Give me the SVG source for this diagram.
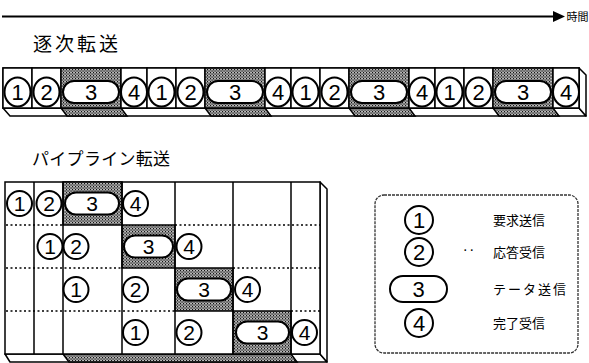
<svg xmlns="http://www.w3.org/2000/svg" width="589" height="363" viewBox="0 0 589 363">
<defs>
<pattern id="stip" width="3" height="3" patternUnits="userSpaceOnUse">
<rect width="3" height="3" fill="#9a9a9a"/>
<rect x="0" y="0" width="1.2" height="1.2" fill="#111"/>
<rect x="1.5" y="1.5" width="1.2" height="1.2" fill="#333"/>
<rect x="1.5" y="0" width="1" height="1" fill="#e0e0e0"/>
</pattern>
</defs>
<style>
.cell{fill:#fff;stroke:#000;stroke-width:1.5}
.shade{fill:url(#stip);stroke:#000;stroke-width:1.5}
.face{fill:#fff;stroke:#000;stroke-width:1.5;stroke-linejoin:round}
.ring{fill:#fff;stroke:#000;stroke-width:2}
.num{font-family:"Liberation Sans",Arial,sans-serif;font-size:22px;text-anchor:middle;fill:#000}
.pnum{font-family:"Liberation Sans",Arial,sans-serif;font-size:21px;text-anchor:middle;fill:#000}
.jp{font-family:"Noto Sans CJK JP","Noto Sans CJK SC",sans-serif;fill:#000}
.vl{stroke:#000;stroke-width:1.5}
.dot{stroke:#000;stroke-width:1.5;stroke-dasharray:2 2.5}
</style>

<g id="connectors">
<line x1="2" y1="16.5" x2="555" y2="16.5" stroke="#000" stroke-width="2"/>
<polygon points="553,11 565,16.5 553,22" fill="#000"/>
</g>
<text class="jp" x="566.5" y="21" font-size="11">時間</text>

<text class="jp" x="33" y="51" font-size="19" letter-spacing="3">逐次転送</text>

<g id="seq-bar">
<polygon class="face" points="3,108 579,108 586,116 10,116"/>
<polygon class="shade" points="61,108 121,108 127,116 67,116"/>
<polygon class="shade" points="205,108 265,108 271,116 211,116"/>
<polygon class="shade" points="349,108 409,108 415,116 355,116"/>
<polygon class="shade" points="493,108 553,108 559,116 499,116"/>
<polygon class="face" points="579,68 586,75 586,116 579,108"/>
<rect class="cell" x="3" y="68" width="576" height="40" stroke-width="2"/>
<rect class="cell" x="3" y="68" width="29" height="40"/><rect class="cell" x="32" y="68" width="29" height="40"/><rect class="shade" x="61" y="68" width="60" height="40"/><rect class="cell" x="121" y="68" width="26" height="40"/>
<rect class="cell" x="147" y="68" width="29" height="40"/><rect class="cell" x="176" y="68" width="29" height="40"/><rect class="shade" x="205" y="68" width="60" height="40"/><rect class="cell" x="265" y="68" width="26" height="40"/>
<rect class="cell" x="291" y="68" width="29" height="40"/><rect class="cell" x="320" y="68" width="29" height="40"/><rect class="shade" x="349" y="68" width="60" height="40"/><rect class="cell" x="409" y="68" width="26" height="40"/>
<rect class="cell" x="435" y="68" width="29" height="40"/><rect class="cell" x="464" y="68" width="29" height="40"/><rect class="shade" x="493" y="68" width="60" height="40"/><rect class="cell" x="553" y="68" width="26" height="40"/>
</g>

<g id="s1a"><ellipse class="ring" cx="17.5" cy="92" rx="13" ry="14.5"/><text class="num" x="17.5" y="100">1</text></g>
<g id="s2a"><ellipse class="ring" cx="46.5" cy="92" rx="13" ry="14.5"/><text class="num" x="46.5" y="100">2</text></g>
<g id="s3a"><rect class="ring" x="63" y="81" width="56" height="22" rx="11"/><text class="num" x="91" y="100">3</text></g>
<g id="s4a"><ellipse class="ring" cx="134" cy="92" rx="13" ry="14.5"/><text class="num" x="134" y="100">4</text></g>
<g id="s1b"><ellipse class="ring" cx="161.5" cy="92" rx="13" ry="14.5"/><text class="num" x="161.5" y="100">1</text></g>
<g id="s2b"><ellipse class="ring" cx="190.5" cy="92" rx="13" ry="14.5"/><text class="num" x="190.5" y="100">2</text></g>
<g id="s3b"><rect class="ring" x="207" y="81" width="56" height="22" rx="11"/><text class="num" x="235" y="100">3</text></g>
<g id="s4b"><ellipse class="ring" cx="278" cy="92" rx="13" ry="14.5"/><text class="num" x="278" y="100">4</text></g>
<g id="s1c"><ellipse class="ring" cx="305.5" cy="92" rx="13" ry="14.5"/><text class="num" x="305.5" y="100">1</text></g>
<g id="s2c"><ellipse class="ring" cx="334.5" cy="92" rx="13" ry="14.5"/><text class="num" x="334.5" y="100">2</text></g>
<g id="s3c"><rect class="ring" x="351" y="81" width="56" height="22" rx="11"/><text class="num" x="379" y="100">3</text></g>
<g id="s4c"><ellipse class="ring" cx="422" cy="92" rx="13" ry="14.5"/><text class="num" x="422" y="100">4</text></g>
<g id="s1d"><ellipse class="ring" cx="449.5" cy="92" rx="13" ry="14.5"/><text class="num" x="449.5" y="100">1</text></g>
<g id="s2d"><ellipse class="ring" cx="478.5" cy="92" rx="13" ry="14.5"/><text class="num" x="478.5" y="100">2</text></g>
<g id="s3d"><rect class="ring" x="495" y="81" width="56" height="22" rx="11"/><text class="num" x="523" y="100">3</text></g>
<g id="s4d"><ellipse class="ring" cx="566" cy="92" rx="13" ry="14.5"/><text class="num" x="566" y="100">4</text></g>

<text class="jp" x="32" y="165" font-size="17" letter-spacing="0.3">パイプライン転送</text>

<g id="pipe-grid">
<polygon class="face" points="5,354 320,354 327,362 10,362"/>
<polygon class="shade" points="63,354 291,354 297,362 69,362"/>
<polygon class="face" points="320,182 327,189 327,362 320,354"/>
<rect class="cell" x="5" y="182" width="315" height="172" stroke-width="2"/>
<rect class="shade" x="63" y="182" width="59" height="43"/>
<rect class="shade" x="122" y="225" width="53" height="43"/>
<rect class="shade" x="175" y="268" width="58" height="43"/>
<rect class="shade" x="233" y="311" width="58" height="43"/>
<line class="dot" x1="6" y1="225" x2="63" y2="225"/><line class="dot" x1="175" y1="225" x2="320" y2="225"/>
<line class="dot" x1="6" y1="268" x2="122" y2="268"/><line class="dot" x1="233" y1="268" x2="320" y2="268"/>
<line class="dot" x1="6" y1="311" x2="175" y2="311"/><line class="dot" x1="291" y1="311" x2="320" y2="311"/>
<line class="vl" x1="34" y1="182" x2="34" y2="354" stroke-width="2.5"/>
<line class="vl" x1="63" y1="182" x2="63" y2="354" stroke-width="2.5"/>
<line class="vl" x1="122" y1="182" x2="122" y2="354"/>
<line class="vl" x1="175" y1="182" x2="175" y2="354"/>
<line class="vl" x1="233" y1="182" x2="233" y2="354"/>
<line class="vl" x1="291" y1="182" x2="291" y2="354"/>
</g>

<g id="p1-1"><circle class="ring" cx="19.5" cy="203.5" r="12.5"/><text class="pnum" x="19.5" y="211">1</text></g>
<g id="p1-2"><circle class="ring" cx="49" cy="203.5" r="12.5"/><text class="pnum" x="49" y="211">2</text></g>
<g id="p1-3"><rect class="ring" x="65" y="192.5" width="54" height="22" rx="11"/><text class="pnum" x="92" y="211">3</text></g>
<g id="p1-4"><circle class="ring" cx="135.5" cy="203.5" r="12.5"/><text class="pnum" x="135.5" y="211">4</text></g>

<g id="p2-1"><circle class="ring" cx="50" cy="246.5" r="12.5"/><text class="pnum" x="50" y="254">1</text></g>
<g id="p2-2"><circle class="ring" cx="76" cy="246.5" r="12.5"/><text class="pnum" x="76" y="254">2</text></g>
<g id="p2-3"><rect class="ring" x="124" y="235.5" width="49" height="22" rx="11"/><text class="pnum" x="148.5" y="254">3</text></g>
<g id="p2-4"><circle class="ring" cx="189" cy="246.5" r="12.5"/><text class="pnum" x="189" y="254">4</text></g>

<g id="p3-1"><circle class="ring" cx="76" cy="289.5" r="12.5"/><text class="pnum" x="76" y="297">1</text></g>
<g id="p3-2"><circle class="ring" cx="135.5" cy="289.5" r="12.5"/><text class="pnum" x="135.5" y="297">2</text></g>
<g id="p3-3"><rect class="ring" x="177" y="278.5" width="54" height="22" rx="11"/><text class="pnum" x="204" y="297">3</text></g>
<g id="p3-4"><circle class="ring" cx="247.5" cy="289.5" r="12.5"/><text class="pnum" x="247.5" y="297">4</text></g>

<g id="p4-1"><circle class="ring" cx="135.5" cy="332.5" r="12.5"/><text class="pnum" x="135.5" y="340">1</text></g>
<g id="p4-2"><circle class="ring" cx="189" cy="332.5" r="12.5"/><text class="pnum" x="189" y="340">2</text></g>
<g id="p4-3"><rect class="ring" x="236" y="321.5" width="53" height="22" rx="11"/><text class="pnum" x="262.5" y="340">3</text></g>
<g id="p4-4"><circle class="ring" cx="304.5" cy="332.5" r="12.5"/><text class="pnum" x="304.5" y="340">4</text></g>

<g id="legend">
<rect x="375" y="195" width="203" height="158" rx="9" fill="none" stroke="#333" stroke-width="1.3" stroke-dasharray="3 1"/>
<g id="leg1"><circle class="ring" cx="419" cy="220" r="14" stroke-width="2.3"/><text class="num" x="419" y="228">1</text><text class="jp" x="493" y="225" font-size="13">要求送信</text></g>
<g id="leg2"><circle class="ring" cx="419" cy="252" r="14" stroke-width="2.3"/><text class="num" x="419" y="260">2</text><text class="jp" x="462" y="255" font-size="13">‥</text><text class="jp" x="493" y="257" font-size="13">応答受信</text></g>
<g id="leg3"><rect class="ring" x="390" y="276" width="57" height="26" rx="13" stroke-width="2.3"/><text class="num" x="418.5" y="297">3</text><text class="jp" x="493" y="294" font-size="13" letter-spacing="2">テータ送信</text></g>
<g id="leg4"><circle class="ring" cx="419" cy="323" r="14" stroke-width="2.3"/><text class="num" x="419" y="331">4</text><text class="jp" x="493" y="328" font-size="13">完了受信</text></g>
</g>
</svg>
